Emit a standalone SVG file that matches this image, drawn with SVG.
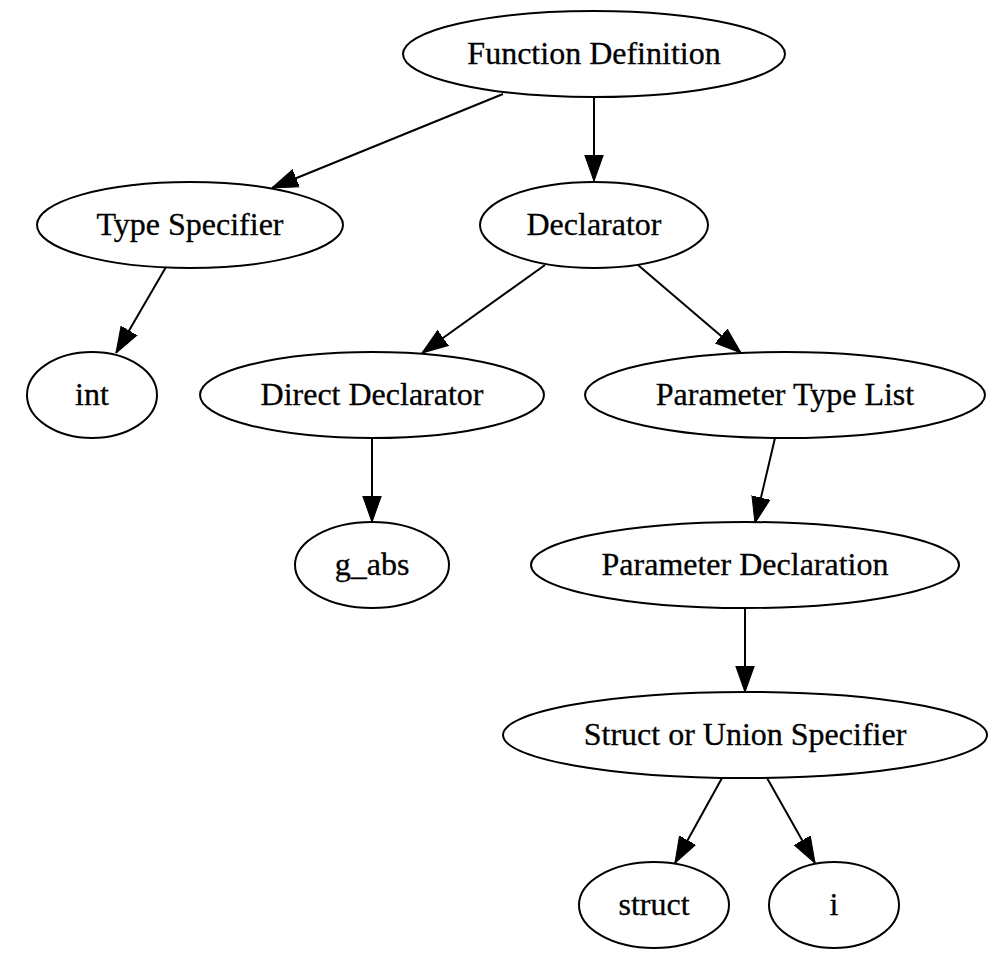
<svg xmlns="http://www.w3.org/2000/svg" width="996" height="965" viewBox="0 0 996 965">
<defs>
<style>
.node ellipse{fill:none;stroke:#000;stroke-width:2}
.node text{font-family:"Liberation Serif","Times New Roman",serif;font-size:32px;text-anchor:middle;fill:#000;stroke:#000;stroke-width:0.3}
.edges line{stroke:#000;stroke-width:2}
</style>
<marker id="arr" markerUnits="userSpaceOnUse" markerWidth="26" markerHeight="20" viewBox="0 0 24 17" refX="24" refY="8.5" orient="auto">
<path d="M0,0 L24,8.5 L0,17 Z" fill="#000" stroke="#000" stroke-width="1"/>
</marker>
</defs>
<rect width="996" height="965" fill="#fff"/>
<g class="edges">
<line x1="503" y1="94" x2="272" y2="188" marker-end="url(#arr)"/>
<line x1="594" y1="97" x2="594" y2="181" marker-end="url(#arr)"/>
<line x1="166" y1="267" x2="116" y2="353" marker-end="url(#arr)"/>
<line x1="545" y1="265" x2="422" y2="353" marker-end="url(#arr)"/>
<line x1="638" y1="265" x2="741" y2="353" marker-end="url(#arr)"/>
<line x1="372" y1="438" x2="372" y2="522" marker-end="url(#arr)"/>
<line x1="775" y1="438" x2="755" y2="523" marker-end="url(#arr)"/>
<line x1="745" y1="608" x2="745" y2="692" marker-end="url(#arr)"/>
<line x1="722" y1="778" x2="675" y2="863" marker-end="url(#arr)"/>
<line x1="767" y1="778" x2="815" y2="863" marker-end="url(#arr)"/>
</g>
<g id="function_definition" class="node"><ellipse cx="594" cy="54" rx="191" ry="43"/><text x="594" y="64">Function Definition</text></g>
<g id="type_specifier" class="node"><ellipse cx="190" cy="225" rx="153" ry="43"/><text x="190" y="235">Type Specifier</text></g>
<g id="declarator" class="node"><ellipse cx="594" cy="225" rx="114" ry="43"/><text x="594" y="235">Declarator</text></g>
<g id="int" class="node"><ellipse cx="92" cy="395" rx="65" ry="43"/><text x="92" y="405">int</text></g>
<g id="direct_declarator" class="node"><ellipse cx="372" cy="395" rx="172" ry="43"/><text x="372" y="405">Direct Declarator</text></g>
<g id="parameter_type_list" class="node"><ellipse cx="785" cy="395" rx="200" ry="43"/><text x="785" y="405">Parameter Type List</text></g>
<g id="g_abs" class="node"><ellipse cx="372" cy="565" rx="77" ry="43"/><text x="372" y="575">g_abs</text></g>
<g id="parameter_declaration" class="node"><ellipse cx="745" cy="565" rx="214" ry="43"/><text x="745" y="575">Parameter Declaration</text></g>
<g id="struct_or_union_specifier" class="node"><ellipse cx="745" cy="735" rx="242" ry="43"/><text x="745" y="745">Struct or Union Specifier</text></g>
<g id="struct" class="node"><ellipse cx="654" cy="905" rx="75" ry="43"/><text x="654" y="915">struct</text></g>
<g id="i" class="node"><ellipse cx="834" cy="905" rx="65" ry="43"/><text x="834" y="915">i</text></g>
</svg>
